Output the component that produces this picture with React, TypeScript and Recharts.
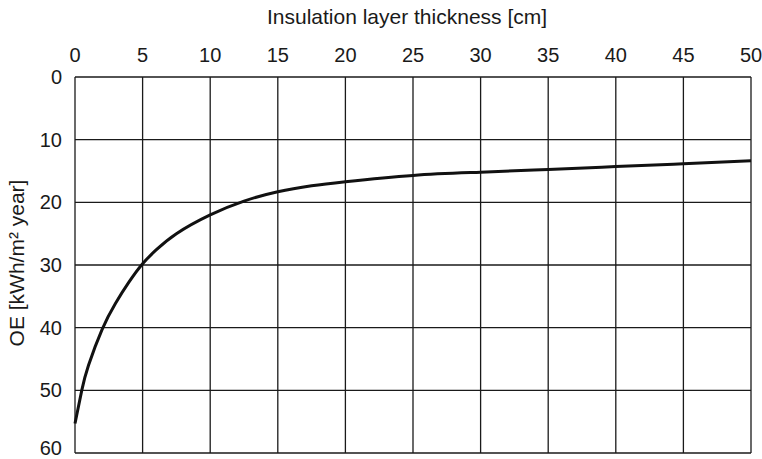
import React from "react"
import { CartesianGrid, Line, LineChart, XAxis, YAxis } from "recharts"

const thickness = [0, 0.5, 1, 2, 3, 4, 5, 6, 7.5, 10, 12.5, 15, 17.5, 20, 25, 30, 35, 40, 45, 50]
const oe = [55.3, 50.0, 46.0, 40.3, 36.1, 32.7, 29.8, 27.6, 25.0, 22.0, 19.8, 18.3, 17.35, 16.7, 15.7, 15.2, 14.75, 14.3, 13.85, 13.35]
const xTicks = [0, 5, 10, 15, 20, 25, 30, 35, 40, 45, 50]
const yTicks = [0, 10, 20, 30, 40, 50, 60]

const data = thickness.map((t, i) => ({ thickness: t, oe: oe[i] }))

const font = "'Liberation Sans', Arial, sans-serif"

export default function App() {
  return (
    <div style={{ position: "absolute", left: 0, top: 0, background: "#fff" }}>
      <LineChart width={762} height={459} data={data} margin={{ top: 0, right: 11, bottom: 6, left: 0 }}>
        <CartesianGrid stroke="#1a1a1a" strokeWidth={1.3} />
        <XAxis
          dataKey="thickness"
          type="number"
          orientation="top"
          domain={[0, 50]}
          ticks={xTicks}
          height={77}
          axisLine={false}
          tickLine={false}
          tickMargin={9}
          tick={{ fill: "#1a1a1a", fontSize: 20, fontFamily: font }}
          label={{
            value: "Insulation layer thickness [cm]",
            position: "insideTop",
            offset: 9,
            dx: -6,
            style: { fill: "#1a1a1a", fontSize: 21, fontFamily: font },
          }}
        />
        <YAxis
          type="number"
          reversed
          domain={[0, 60]}
          ticks={yTicks}
          width={75}
          axisLine={false}
          tickLine={false}
          tickMargin={7}
          tick={{ fill: "#1a1a1a", fontSize: 20, fontFamily: font }}
          label={{
            value: "OE [kWh/m² year]",
            angle: -90,
            position: "insideLeft",
            offset: 17,
            dy: -2,
            style: { fill: "#1a1a1a", fontSize: 21, fontFamily: font, textAnchor: "middle" },
          }}
        />
        <Line
          dataKey="oe"
          type="natural"
          stroke="#111"
          strokeWidth={3}
          dot={false}
          isAnimationActive={false}
        />
      </LineChart>
    </div>
  )
}
